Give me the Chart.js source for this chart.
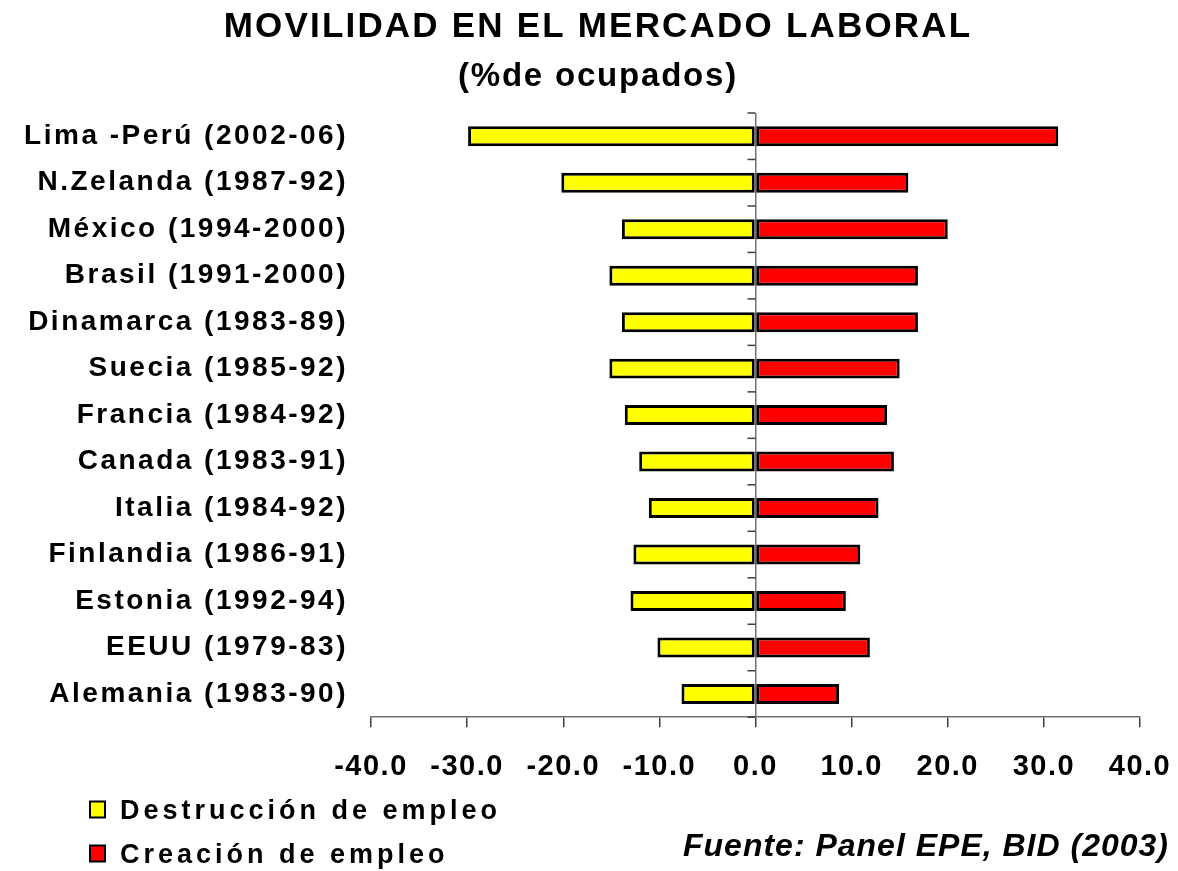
<!DOCTYPE html>
<html>
<head>
<meta charset="utf-8">
<script src="https://cdn.jsdelivr.net/npm/chart.js@4.4.1/dist/chart.umd.min.js"></script>
<style>
  html, body { margin: 0; padding: 0; background: #fff; }
  #wrap { width: 1178px; height: 871px; }
</style>
</head>
<body>
<div id="wrap"><canvas id="chart" width="1178" height="871"></canvas></div>
<script>
const paises = [
  'Lima -Perú (2002-06)', 'N.Zelanda (1987-92)', 'México (1994-2000)', 'Brasil (1991-2000)',
  'Dinamarca (1983-89)', 'Suecia (1985-92)', 'Francia (1984-92)', 'Canada (1983-91)',
  'Italia (1984-92)', 'Finlandia (1986-91)', 'Estonia (1992-94)', 'EEUU (1979-83)', 'Alemania (1983-90)'
]
const destruccion = [-29.9, -20.2, -13.9, -15.2, -13.9, -15.2, -13.6, -12.1, -11.1, -12.7, -13.0, -10.2, -7.7]
const creacion = [31.5, 15.9, 20.0, 16.9, 16.9, 15.0, 13.7, 14.4, 12.8, 10.9, 9.4, 11.9, 8.7]
const xTicks = [-40, -30, -20, -10, 0, 10, 20, 30, 40]

const titulo = 'MOVILIDAD EN EL MERCADO LABORAL'
const subtitulo = '(%de ocupados)'
const fuente = 'Fuente: Panel EPE, BID (2003)'

const FONT = "'Liberation Sans', Arial, sans-serif"

// letter spacing on axis labels (the source text is spread out)
const spacedLabels = {
  id: 'spacedLabels',
  beforeDraw(chart) {
    const spacing = { x: '1.5px', y: '2.5px' }
    Object.keys(spacing).forEach(id => {
      const s = chart.scales[id]
      if (s && !s._spaced) {
        const orig = s.drawLabels.bind(s)
        s.drawLabels = function (area) {
          const c = this.ctx
          c.save()
          c.letterSpacing = spacing[id]
          orig(area)
          c.restore()
        }
        s._spaced = true
      }
    })
  }
}

// small tick marks on the zero line between categories
const zeroTicks = {
  id: 'zeroTicks',
  afterDatasetsDraw(chart) {
    const { ctx, scales: { x, y } } = chart
    const x0 = x.getPixelForValue(0)
    const step = y.getPixelForValue(1) - y.getPixelForValue(0)
    ctx.save()
    ctx.strokeStyle = '#404040'
    ctx.lineWidth = 1.5
    for (let i = 0; i <= paises.length; i++) {
      const py = y.getPixelForValue(0) - step / 2 + i * step
      ctx.beginPath()
      ctx.moveTo(x0 - 8, py)
      ctx.lineTo(x0, py)
      ctx.stroke()
    }
    ctx.restore()
  }
}

// titles, legend and source
const textos = {
  id: 'textos',
  afterDraw(chart) {
    const ctx = chart.ctx
    ctx.save()
    ctx.fillStyle = '#000'
    ctx.textBaseline = 'alphabetic'
    ctx.textAlign = 'center'

    ctx.font = 'bold 35px ' + FONT
    ctx.letterSpacing = '2.2px'
    ctx.fillText(titulo, 598, 37)

    ctx.font = 'bold 33px ' + FONT
    ctx.letterSpacing = '1.8px'
    ctx.fillText(subtitulo, 598, 86)

    ctx.textAlign = 'left'
    ctx.font = 'bold 27px ' + FONT
    ctx.letterSpacing = '4px'
    chart.data.datasets.forEach((ds, i) => {
      const base = 819 + i * 44
      ctx.fillStyle = ds.backgroundColor
      ctx.fillRect(90, base - 17.5, 15, 16)
      ctx.strokeStyle = '#000'
      ctx.lineWidth = 2
      ctx.strokeRect(90, base - 17.5, 15, 16)
      ctx.fillStyle = '#000'
      ctx.fillText(ds.label, 120, base)
    })

    ctx.textAlign = 'right'
    ctx.font = 'italic bold 32px ' + FONT
    ctx.letterSpacing = '1px'
    ctx.fillText(fuente, 1169, 856)
    ctx.restore()
  }
}

new Chart(document.getElementById('chart'), {
  type: 'bar',
  data: {
    labels: paises,
    datasets: [
      {
        label: 'Destrucción de empleo',
        data: destruccion,
        backgroundColor: '#FFFF00',
        borderColor: '#000',
        borderWidth: 3,
        borderSkipped: false
      },
      {
        label: 'Creación de empleo',
        data: creacion,
        backgroundColor: '#FF0000',
        borderColor: '#000',
        borderWidth: 3,
        borderSkipped: false
      }
    ]
  },
  options: {
    indexAxis: 'y',
    responsive: false,
    animation: false,
    barPercentage: 0.43,
    categoryPercentage: 1,
    layout: {
      padding: { top: 113, left: 0, right: 38, bottom: 65 }
    },
    plugins: {
      legend: { display: false },
      title: { display: false },
      tooltip: { enabled: false }
    },
    scales: {
      x: {
        stacked: true,
        min: -40,
        max: 40,
        afterBuildTicks: scale => { scale.ticks = xTicks.map(v => ({ value: v })) },
        afterFit: scale => { scale.paddingLeft = 0; scale.paddingRight = 0 },
        grid: {
          color: ctx => (ctx.tick && ctx.tick.value === 0 ? '#707070' : 'transparent'),
          lineWidth: 1.5,
          tickColor: '#404040',
          tickLength: 10
        },
        border: { color: '#707070', width: 1.5 },
        ticks: {
          color: '#000',
          padding: 22,
          maxRotation: 0,
          autoSkip: false,
          font: { family: FONT, size: 29, weight: 'bold' },
          callback: v => Number(v).toFixed(1)
        }
      },
      y: {
        stacked: true,
        afterFit: scale => { scale.width = 371 },
        grid: { display: false, drawTicks: false },
        border: { display: false },
        ticks: {
          color: '#000',
          padding: 23,
          autoSkip: false,
          font: { family: FONT, size: 28, weight: 'bold' }
        }
      }
    }
  },
  plugins: [spacedLabels, zeroTicks, textos]
})
</script>
</body>
</html>
